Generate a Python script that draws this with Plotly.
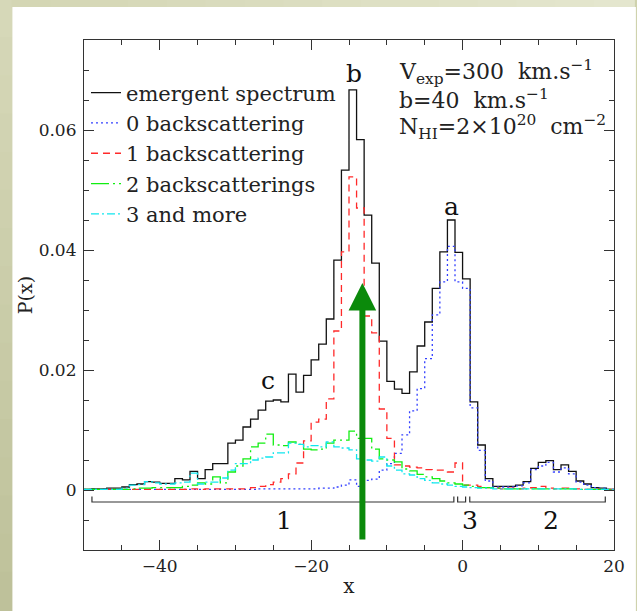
import plotly.graph_objects as go

# ---------------- data ----------------
bin_left = list(range(-50, 20))          # histogram bins of width 1, from -50 to 20
bin_edges = bin_left + [20]

emergent = [0.0001, 0.0002, 0.0002, 0.0003, 0.0003, 0.0005, 0.0009, 0.0010, 0.0014, 0.0013,
            0.0011, 0.0011, 0.0019, 0.0017, 0.0031, 0.0019, 0.0034, 0.0044, 0.0044, 0.0078,
            0.0083, 0.0105, 0.0118, 0.0133, 0.0148, 0.0150, 0.0147, 0.0193, 0.0163, 0.0191,
            0.0217, 0.0243, 0.0285, 0.0383, 0.0533, 0.0667, 0.0584, 0.0458, 0.0378, 0.0248,
            0.0181, 0.0168, 0.0161, 0.0197, 0.0240, 0.0280, 0.0336, 0.0397, 0.0450, 0.0396,
            0.0352, 0.0147, 0.0075, 0.0019, 0.0006, 0.0006, 0.0006, 0.0008, 0.0014, 0.0036,
            0.0046, 0.0049, 0.0034, 0.0042, 0.0031, 0.0015, 0.0010, 0.0004, 0.0003, 0.0001]

back0 = [0.0001, 0.0001, 0.0001, 0.0001, 0.0001, 0.0001, 0.0001, 0.0001, 0.0001, 0.0001,
         0.0001, 0.0001, 0.0001, 0.0001, 0.0001, 0.0001, 0.0001, 0.0001, 0.0001, 0.0001,
         0.0001, 0.0001, 0.0001, 0.0002, 0.0002, 0.0002, 0.0002, 0.0002, 0.0002, 0.0002,
         0.0002, 0.0003, 0.0003, 0.0005, 0.0008, 0.0017, 0.0006, 0.0016, 0.0018, 0.0033,
         0.0044, 0.0061, 0.0092, 0.0132, 0.0169, 0.0219, 0.0292, 0.0347, 0.0406, 0.0347,
         0.0336, 0.0137, 0.0066, 0.0015, 0.0005, 0.0005, 0.0005, 0.0007, 0.0012, 0.0034,
         0.0040, 0.0046, 0.0030, 0.0037, 0.0027, 0.0013, 0.0008, 0.0004, 0.0003, 0.0001]

back1 = [0.0001, 0.0001, 0.0001, 0.0001, 0.0001, 0.0001, 0.0001, 0.0001, 0.0001, 0.0001,
         0.0001, 0.0001, 0.0001, 0.0001, 0.0002, 0.0001, 0.0002, 0.0002, 0.0002, 0.0002,
         0.0002, 0.0002, 0.0004, 0.0006, 0.0009, 0.0013, 0.0019, 0.0027, 0.0045, 0.0082,
         0.0113, 0.0118, 0.0152, 0.0265, 0.0397, 0.0522, 0.0470, 0.0290, 0.0262, 0.0135,
         0.0086, 0.0042, 0.0040, 0.0038, 0.0037, 0.0034, 0.0033, 0.0033, 0.0030, 0.0045,
         0.0008, 0.0008, 0.0006, 0.0004, 0.0003, 0.0002, 0.0003, 0.0002, 0.0003, 0.0004,
         0.0006, 0.0003, 0.0002, 0.0003, 0.0002, 0.0002, 0.0001, 0.0002, 0.0001, 0.0001]

back2 = [0.0001, 0.0001, 0.0001, 0.0001, 0.0001, 0.0001, 0.0002, 0.0003, 0.0003, 0.0004,
         0.0004, 0.0004, 0.0004, 0.0006, 0.0008, 0.0012, 0.0010, 0.0022, 0.0012, 0.0030,
         0.0040, 0.0052, 0.0072, 0.0078, 0.0093, 0.0075, 0.0074, 0.0080, 0.0076, 0.0068,
         0.0067, 0.0068, 0.0078, 0.0083, 0.0083, 0.0098, 0.0086, 0.0086, 0.0068, 0.0052,
         0.0050, 0.0047, 0.0035, 0.0032, 0.0026, 0.0022, 0.0019, 0.0015, 0.0012, 0.0010,
         0.0008, 0.0006, 0.0004, 0.0004, 0.0003, 0.0002, 0.0002, 0.0002, 0.0002, 0.0002,
         0.0002, 0.0002, 0.0002, 0.0002, 0.0002, 0.0001, 0.0001, 0.0001, 0.0001, 0.0001]

back3 = [0.0001, 0.0001, 0.0001, 0.0001, 0.0001, 0.0003, 0.0008, 0.0009, 0.0014, 0.0012,
         0.0010, 0.0010, 0.0012, 0.0013, 0.0028, 0.0010, 0.0013, 0.0013, 0.0020, 0.0033,
         0.0044, 0.0044, 0.0050, 0.0053, 0.0055, 0.0062, 0.0062, 0.0078, 0.0076, 0.0072,
         0.0074, 0.0072, 0.0080, 0.0072, 0.0070, 0.0067, 0.0052, 0.0050, 0.0048, 0.0055,
         0.0040, 0.0033, 0.0027, 0.0025, 0.0019, 0.0016, 0.0012, 0.0010, 0.0008, 0.0006,
         0.0005, 0.0004, 0.0003, 0.0003, 0.0002, 0.0002, 0.0002, 0.0002, 0.0002, 0.0002,
         0.0002, 0.0002, 0.0002, 0.0002, 0.0002, 0.0001, 0.0001, 0.0001, 0.0001, 0.0001]

series_names = ["emergent spectrum", "0 backscattering", "1 backscattering",
                "2 backscatterings", "3 and more"]
series_values = [emergent, back0, back1, back2, back3]

# peak labels
peak_labels = ["a", "b", "c"]
peak_x = [-1.4, -14.4, -25.7]
peak_y = [0.0472, 0.0695, 0.0182]

# region brackets below the spectrum
region_labels = ["1", "3", "2"]
region_start = [-48.95, -0.65, 0.95]
region_end = [-1.15, 0.40, 18.85]
region_label_x = [-23.6, 1.0, 11.7]

# arrow marking the line-centre
arrow_x = -13.23
arrow_tip = 0.0345
arrow_tail = -0.0085

# ---------------- styles ----------------
FONT = "DejaVu Serif"
styles = [
    dict(color="#111111", width=1.3, dash="solid"),
    dict(color="#3340ff", width=1.3, dash="2px,3px"),
    dict(color="#ff2a2a", width=1.3, dash="7px,5px"),
    dict(color="#11ee11", width=1.3, dash="18px,4px,2px,4px"),
    dict(color="#11e6ee", width=1.3, dash="8px,3px,2px,3px"),
]

fig = go.Figure()
for name, vals, st in zip(series_names, series_values, styles):
    fig.add_trace(go.Scatter(
        x=bin_edges, y=list(vals) + [vals[-1]],
        mode="lines", line=dict(shape="hv", **st), name=name,
        hoverinfo="skip"))

# brackets
shapes = []
for x0, x1 in zip(region_start, region_end):
    shapes.append(dict(type="path", xref="x", yref="y",
                       path=f"M{x0},-0.0011 L{x0},-0.0020 L{x1},-0.0020 L{x1},-0.0011",
                       line=dict(color="#333333", width=1.2)))

# background: olive gradient frame + white panel
W, H = 637, 611
L, R, T, B = 84, 20, 40, 61
pw, ph = W - L - R, H - T - B
def px(xp):
    return (xp - L) / pw
def py(yp):
    return (H - B - yp) / ph

def mix(c0, c1, f):
    return "rgb(%d,%d,%d)" % tuple(round(a + (b - a) * f) for a, b in zip(c0, c1))

bg = []
nb = 16
for i in range(nb):   # left strip, darker towards the bottom
    f = i / (nb - 1)
    bg.append(dict(type="rect", xref="paper", yref="paper", layer="below",
                   x0=px(-2), x1=px(13), y0=py(i * H / nb - 1), y1=py((i + 1) * H / nb + 1),
                   fillcolor=mix((214, 216, 184), (190, 193, 154), f), line=dict(width=0)))
for i in range(nb):   # top strip, lighter towards the right
    f = i / (nb - 1)
    bg.append(dict(type="rect", xref="paper", yref="paper", layer="below",
                   x0=px(12 + i * (W - 12) / nb - 1), x1=px(12 + (i + 1) * (W - 12) / nb + 1),
                   y0=py(8), y1=py(-2),
                   fillcolor=mix((212, 214, 180), (228, 230, 206), f), line=dict(width=0)))
bg.append(dict(type="rect", xref="paper", yref="paper", layer="below",
               x0=px(12), x1=px(W + 2), y0=py(7), y1=py(H + 2),
               fillcolor="#ffffff", line=dict(width=0)))
shapes = bg + shapes

annotations = []
for t, x, y in zip(peak_labels, peak_x, peak_y):
    annotations.append(dict(x=x, y=y, xref="x", yref="y", text=t, showarrow=False,
                            font=dict(family=FONT, size=25, color="#111")))
for t, x in zip(region_labels, region_label_x):
    annotations.append(dict(x=x, y=-0.0051, xref="x", yref="y", text=t, showarrow=False,
                            font=dict(family=FONT, size=25, color="#111")))

info_lines = ["V<sub>exp</sub>=300\u00a0\u00a0km.s<sup>\u22121</sup>",
              "b=40\u00a0\u00a0km.s<sup>\u22121</sup>",
              "N<sub>HI</sub>=2\u00d710<sup>20</sup>\u00a0\u00a0cm<sup>\u22122</sup>"]
info_y = [0.0697, 0.0652, 0.0605]
for t, y in zip(info_lines, info_y):
    annotations.append(dict(x=-8.6, y=y, xref="x", yref="y", text=t, showarrow=False,
                            xanchor="left", yanchor="middle",
                            font=dict(family=FONT, size=22, color="#222")))

annotations.append(dict(x=arrow_x, y=arrow_tip, ax=arrow_x, ay=arrow_tail,
                        xref="x", yref="y", axref="x", ayref="y", text="",
                        showarrow=True, arrowhead=2, arrowwidth=6, arrowsize=0.92,
                        arrowcolor="#0b8a0b", standoff=0))

axis_common = dict(showgrid=False, zeroline=False, showline=True, linecolor="#333333",
                   linewidth=1.2, mirror="ticks", ticks="inside", ticklen=10,
                   tickwidth=1.1, tickcolor="#333333",
                   tickfont=dict(family=FONT, size=17, color="#222"))

fig.update_layout(
    width=W, height=H,
    margin=dict(l=L, r=R, t=T, b=B, pad=0),
    paper_bgcolor="#cfd2ad",
    plot_bgcolor="#ffffff",
    font=dict(family=FONT, color="#222"),
    showlegend=True,
    legend=dict(x=px(86), y=py(72.5), xanchor="left", yanchor="top",
                bgcolor="rgba(0,0,0,0)", borderwidth=0,
                font=dict(family=FONT, size=21, color="#222"), itemwidth=30),
    xaxis=dict(range=[-50, 20], tick0=0, dtick=20,
               minor=dict(dtick=5, tick0=0, ticks="inside", ticklen=5, tickcolor="#333333"),
               title=dict(text="x", font=dict(family=FONT, size=20, color="#222"), standoff=4),
               **axis_common),
    yaxis=dict(range=[-0.01, 0.075], tickvals=[0, 0.02, 0.04, 0.06],
               ticktext=["0", "0.02", "0.04", "0.06"], ticklabelstandoff=3,
               minor=dict(dtick=0.005, tick0=0, ticks="inside", ticklen=5, tickcolor="#333333"),
               title=dict(text="P(x)", font=dict(family=FONT, size=19, color="#222"), standoff=0),
               **axis_common),
    shapes=shapes,
    annotations=annotations,
)

fig.write_html("out.html")
